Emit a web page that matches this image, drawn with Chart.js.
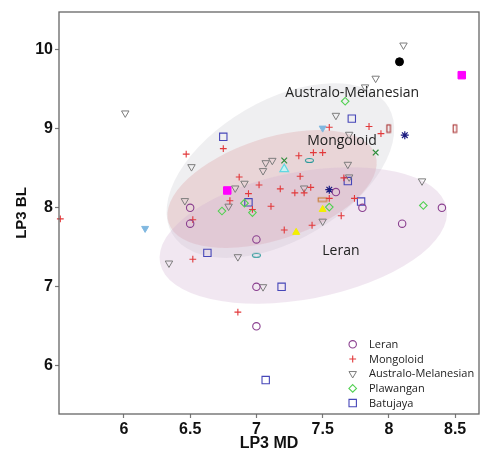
<!DOCTYPE html>
<html><head><meta charset="utf-8">
<script src="https://cdn.jsdelivr.net/npm/chart.js@4.4.1/dist/chart.umd.min.js"></script>
<style>html,body{margin:0;padding:0;background:#fff;}</style>
</head><body>
<canvas id="c" width="489" height="450" style="width:489px;height:450px;display:block"></canvas>
<script>
// ---------- data ----------
const leranX = [6.50, 6.50, 7.00, 7.00, 7.00, 7.60, 7.80, 8.10, 8.40];
const leranY = [8.00, 7.80, 7.60, 7.00, 6.50, 8.20, 8.00, 7.80, 8.00];

const mongoloidX = [5.52, 6.47, 6.75, 6.87, 6.80, 6.94, 7.02, 6.97, 7.11, 7.18, 7.29, 7.32, 7.33, 7.36, 7.41,
  7.43, 7.50, 7.55, 7.85, 7.94, 7.66, 7.55, 7.74, 7.64, 7.42, 7.21, 6.52, 6.52, 6.86];
const mongoloidY = [7.86, 8.68, 8.75, 8.39, 8.09, 8.18, 8.29, 7.98, 8.02, 8.24, 8.19, 8.66, 8.40, 8.19, 8.26,
  8.70, 8.70, 9.02, 9.03, 8.94, 8.38, 8.12, 8.12, 7.90, 7.78, 7.72, 7.85, 7.35, 6.68];

const australoX = [6.01, 8.11, 7.90, 7.82, 7.60, 7.70, 7.69, 7.70, 6.51, 6.46, 6.79, 6.84, 6.91, 7.07, 7.05,
  7.12, 7.36, 7.50, 6.86, 6.34, 7.05, 8.25];
const australoY = [9.20, 10.06, 9.64, 9.53, 9.17, 8.93, 8.55, 8.39, 8.52, 8.09, 8.02, 8.25, 8.31, 8.57, 8.47,
  8.60, 8.25, 7.83, 7.38, 7.30, 7.00, 8.34];

const plawanganX = [7.67, 6.74, 6.97, 6.91, 7.55, 8.26];
const plawanganY = [9.35, 7.96, 7.94, 8.06, 8.01, 8.03];

const batujayaX = [6.75, 7.72, 6.94, 7.69, 7.79, 6.63, 7.19, 7.07];
const batujayaY = [8.90, 9.13, 8.07, 8.34, 8.08, 7.43, 7.00, 5.82];

// other (unlabelled) specimens
const blackDotX = [8.08];            const blackDotY = [9.85];
const magentaX = [8.55, 6.78];       const magentaY = [9.68, 8.22];
const lightBlueX = [6.16, 7.50];     const lightBlueY = [7.74, 9.01];
const cyanX = [7.21];                const cyanY = [8.49];
const yellowX = [7.30, 7.50];        const yellowY = [7.69, 7.98];
const greenCrossX = [7.21, 7.90];    const greenCrossY = [8.60, 8.70];
const navyStarX = [8.12, 7.55];      const navyStarY = [8.92, 8.23];
const tealOvalX = [7.40, 7.00];      const tealOvalY = [8.60, 7.40];
const redBarX = [8.00, 8.50];        const redBarY = [9.00, 9.00];
const orangeBarX = [7.50];           const orangeBarY = [8.10];

// group ellipses: centre, end of major axis, end of minor axis (data units)
const ellipseNames = ['Australo-Melanesian', 'Mongoloid', 'Leran'];
const ellipseCX = [7.181, 7.118, 7.354];
const ellipseCY = [8.473, 8.239, 7.651];
const ellipseMajX = [7.998, 7.899, 8.435];
const ellipseMajY = [9.274, 8.668, 8.000];
const ellipseMinX = [6.915, 6.999, 7.263];
const ellipseMinY = [9.236, 8.850, 8.442];
const ellipseLabelX = [7.723, 7.646, 7.638];
const ellipseLabelY = [9.456, 8.850, 7.459];

const xTickValues = [6, 6.5, 7, 7.5, 8, 8.5];
const xTickLabels = ['6', '6.5', '7', '7.5', '8', '8.5'];
const yTickValues = [6, 7, 8, 9, 10];
const yTickLabels = ['6', '7', '8', '9', '10'];

// ---------- styles ----------
const ellipseFills = ['rgba(205,205,212,0.32)', 'rgba(222,160,165,0.33)', 'rgba(210,175,210,0.30)'];

function pts(xs, ys) { return xs.map((x, i) => ({x: x, y: ys[i]})); }

function makeImg(w, h, draw) {
  const c = document.createElement('canvas');
  c.width = w; c.height = h;
  const g = c.getContext('2d');
  draw(g);
  return c;
}
const tealOvalImg = makeImg(11, 7, g => { g.strokeStyle = '#2a9a9a'; g.lineWidth = 1.1; g.beginPath(); g.ellipse(5.5, 3.5, 4, 2, 0, 0, Math.PI * 2); g.stroke(); });
const redBarImg = makeImg(7, 11, g => { g.strokeStyle = '#a33'; g.lineWidth = 1.1; g.strokeRect(1.5, 1.5, 3.5, 7.5); });
const orangeBarImg = makeImg(12, 7, g => { g.strokeStyle = '#c7782f'; g.lineWidth = 1.1; g.strokeRect(1.5, 1.5, 8.5, 3.5); });

const C = {
  leran: '#8a3f8f', mongo: '#e2383a', austr: '#7c7c7c', plaw: '#52d052', batu: '#4646b8'
};

const mainSets = [
  {label: 'Leran', data: pts(leranX, leranY), pointStyle: 'circle', radius: 3.7, borderColor: C.leran, backgroundColor: 'rgba(0,0,0,0)', borderWidth: 1.1},
  {label: 'Mongoloid', data: pts(mongoloidX, mongoloidY), pointStyle: 'cross', radius: 3.4, borderColor: C.mongo, backgroundColor: C.mongo, borderWidth: 1.1},
  {label: 'Australo-Melanesian', data: pts(australoX, australoY), pointStyle: 'triangle', rotation: 180, radius: 4.3, borderColor: C.austr, backgroundColor: 'rgba(0,0,0,0)', borderWidth: 1},
  {label: 'Plawangan', data: pts(plawanganX, plawanganY), pointStyle: 'rectRot', radius: 3.8, borderColor: C.plaw, backgroundColor: 'rgba(0,0,0,0)', borderWidth: 1.1},
  {label: 'Batujaya', data: pts(batujayaX, batujayaY), pointStyle: 'rect', radius: 5.2, borderColor: C.batu, backgroundColor: 'rgba(0,0,0,0)', borderWidth: 1.1}
];
const extraSets = [
  {label: 'o1', data: pts(blackDotX, blackDotY), pointStyle: 'circle', radius: 4, borderColor: '#000', backgroundColor: '#000', borderWidth: 1},
  {label: 'o2', data: pts(magentaX, magentaY), pointStyle: 'rect', radius: 5.3, borderColor: '#f0f', backgroundColor: '#f0f', borderWidth: 1},
  {label: 'o3', data: pts(lightBlueX, lightBlueY), pointStyle: 'triangle', rotation: 180, radius: 4, borderColor: '#80b8e0', backgroundColor: '#80b8e0', borderWidth: 1},
  {label: 'o4', data: pts(cyanX, cyanY), pointStyle: 'triangle', radius: 5, borderColor: '#62d8e2', backgroundColor: '#c8f2f4', borderWidth: 1.2},
  {label: 'o5', data: pts(yellowX, yellowY), pointStyle: 'triangle', radius: 4, borderColor: '#f0ee00', backgroundColor: '#f4f000', borderWidth: 1},
  {label: 'o6', data: pts(greenCrossX, greenCrossY), pointStyle: 'crossRot', radius: 4, borderColor: '#2e8c3a', backgroundColor: '#2e8c3a', borderWidth: 1.2},
  {label: 'o7', data: pts(navyStarX, navyStarY), pointStyle: 'star', radius: 4, borderColor: '#1c1c80', backgroundColor: '#1c1c80', borderWidth: 1.2},
  {label: 'o8', data: pts(tealOvalX, tealOvalY), pointStyle: tealOvalImg, radius: 4},
  {label: 'o9', data: pts(redBarX, redBarY), pointStyle: redBarImg, radius: 4},
  {label: 'o10', data: pts(orangeBarX, orangeBarY), pointStyle: orangeBarImg, radius: 4}
];

const datasets = mainSets.concat(extraSets).map(d => Object.assign({pointHoverRadius: d.radius, clip: false}, d));

function drawSym(ctx, style, x, y, color) {
  ctx.save();
  ctx.strokeStyle = color; ctx.fillStyle = color; ctx.lineWidth = 1.1;
  ctx.beginPath();
  if (style === 'circle') { ctx.arc(x, y, 3.7, 0, Math.PI * 2); ctx.stroke(); }
  else if (style === 'cross') { ctx.moveTo(x - 3.4, y); ctx.lineTo(x + 3.4, y); ctx.moveTo(x, y - 3.4); ctx.lineTo(x, y + 3.4); ctx.stroke(); }
  else if (style === 'tri') { const r = 4.3; ctx.moveTo(x - r * 0.866, y - r / 2); ctx.lineTo(x + r * 0.866, y - r / 2); ctx.lineTo(x, y + r); ctx.closePath(); ctx.lineWidth = 1; ctx.stroke(); }
  else if (style === 'diamond') { const r = 3.8; ctx.moveTo(x, y - r); ctx.lineTo(x + r, y); ctx.lineTo(x, y + r); ctx.lineTo(x - r, y); ctx.closePath(); ctx.stroke(); }
  else if (style === 'square') { ctx.rect(x - 3.7, y - 3.7, 7.4, 7.4); ctx.stroke(); }
  ctx.restore();
}

const decorPlugin = {
  id: 'decor',
  beforeDatasetsDraw(chart) {
    const {ctx, chartArea: a, scales: {x, y}} = chart;
    ctx.save();
    for (let i = 0; i < ellipseNames.length; i++) {
      const cx = x.getPixelForValue(ellipseCX[i]), cy = y.getPixelForValue(ellipseCY[i]);
      const mx = x.getPixelForValue(ellipseMajX[i]), my = y.getPixelForValue(ellipseMajY[i]);
      const nx = x.getPixelForValue(ellipseMinX[i]), ny = y.getPixelForValue(ellipseMinY[i]);
      const ra = Math.hypot(mx - cx, my - cy), rb = Math.hypot(nx - cx, ny - cy);
      const ang = Math.atan2(my - cy, mx - cx);
      ctx.beginPath();
      ctx.ellipse(cx, cy, ra, rb, ang, 0, Math.PI * 2);
      ctx.fillStyle = ellipseFills[i];
      ctx.fill();
    }
    ctx.fillStyle = '#222';
    ctx.font = '14px "Open Sans"';
    ctx.textAlign = 'center';
    ctx.textBaseline = 'middle';
    for (let i = 0; i < ellipseNames.length; i++) {
      ctx.fillText(ellipseNames[i], x.getPixelForValue(ellipseLabelX[i]), y.getPixelForValue(ellipseLabelY[i]));
    }
    ctx.restore();
  },
  afterDraw(chart) {
    const {ctx, chartArea: a} = chart;
    ctx.save();
    ctx.strokeStyle = '#666';
    ctx.lineWidth = 1.3;
    ctx.strokeRect(a.left, a.top, a.right - a.left, a.bottom - a.top);
    const symX = a.right - 126.3, txtX = a.right - 110, y0 = a.bottom - 69.7, dy = 14.7;
    const syms = ['circle', 'cross', 'tri', 'diamond', 'square'];
    const cols = [C.leran, C.mongo, C.austr, C.plaw, C.batu];
    ctx.font = '11px "Open Sans"';
    ctx.textAlign = 'left';
    ctx.textBaseline = 'middle';
    mainSets.forEach((d, i) => {
      drawSym(ctx, syms[i], symX, y0 + i * dy, cols[i]);
      ctx.fillStyle = '#222';
      ctx.fillText(d.label, txtX, y0 + i * dy + 0.5);
    });
    ctx.restore();
  }
};

new Chart(document.getElementById('c'), {
  type: 'scatter',
  data: {datasets: datasets},
  plugins: [decorPlugin],
  options: {
    responsive: false,
    devicePixelRatio: 1,
    animation: false,
    layout: {padding: {top: 12, right: 10, left: 0, bottom: 0}},
    plugins: {legend: {display: false}, tooltip: {enabled: false}},
    scales: {
      x: {
        type: 'linear', min: 5.51, max: 8.68,
        afterFit(s) { s.height = 36; },
        afterBuildTicks(s) { s.ticks = xTickValues.map(v => ({value: v})); },
        grid: {drawOnChartArea: false, drawTicks: true, tickLength: 4, tickColor: '#777', tickWidth: 1.2},
        border: {display: false},
        ticks: {padding: 2, color: '#111', font: {family: '"Liberation Sans", Arial', size: 16, weight: 'bold'},
          callback: (v) => { const i = xTickValues.indexOf(v); return i >= 0 ? xTickLabels[i] : ''; }, maxRotation: 0, autoSkip: false},
        title: {display: true, text: 'LP3 MD', color: '#111', padding: {top: 0, bottom: 0},
          font: {family: '"Liberation Sans", Arial', size: 16, weight: 'bold', lineHeight: 0.85}}
      },
      y: {
        type: 'linear', min: 5.39, max: 10.48,
        afterFit(s) { s.width = 59; },
        afterBuildTicks(s) { s.ticks = yTickValues.map(v => ({value: v})); },
        grid: {drawOnChartArea: false, drawTicks: true, tickLength: 4, tickColor: '#777', tickWidth: 1.2},
        border: {display: false},
        ticks: {padding: 2, color: '#111', font: {family: '"Liberation Sans", Arial', size: 16, weight: 'bold'},
          callback: (v) => { const i = yTickValues.indexOf(v); return i >= 0 ? yTickLabels[i] : ''; }, autoSkip: false},
        title: {display: true, text: 'LP3 BL', color: '#111', padding: {top: 13, bottom: 0},
          font: {family: '"Liberation Sans", Arial', size: 15, weight: 'bold', lineHeight: 1.2}}
      }
    }
  }
});
</script>
</body></html>
